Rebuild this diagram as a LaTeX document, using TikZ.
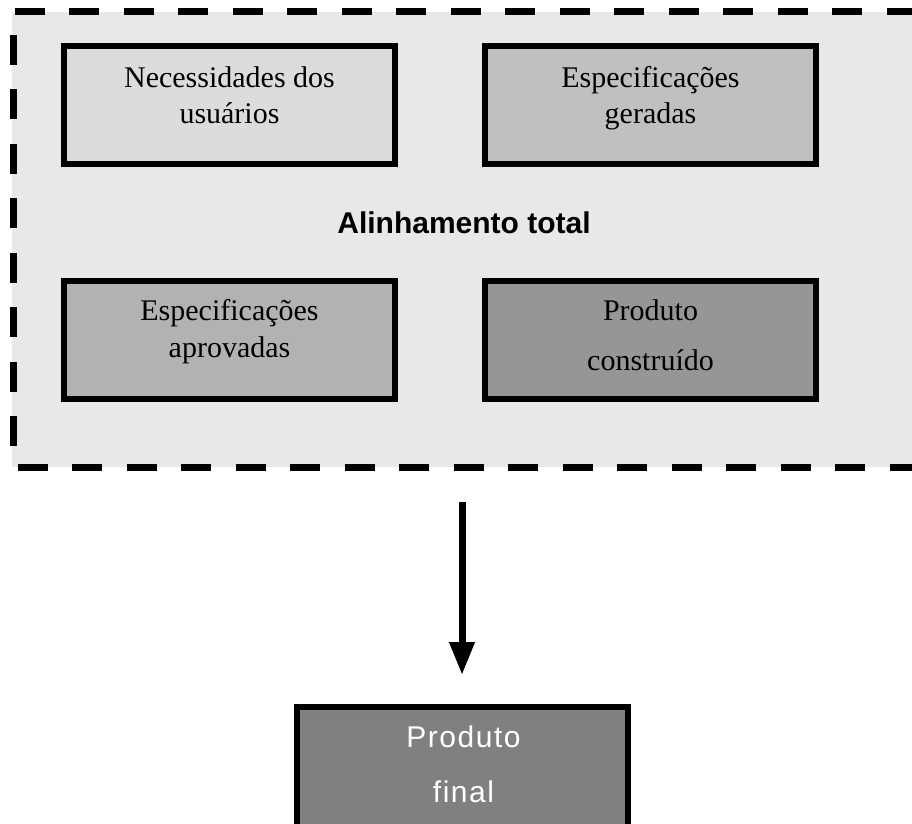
\documentclass[tikz,border=0pt]{standalone}
\usepackage{fontspec}
\setmainfont{Liberation Serif}
\newfontfamily\sansfont{Liberation Sans}
\newfontfamily\finalfont[LetterSpace=5]{Liberation Sans}
\usetikzlibrary{arrows.meta,positioning}
\definecolor{contgray}{RGB}{232,232,232}
\definecolor{needgray}{RGB}{220,220,220}
\definecolor{specgray}{RGB}{192,192,192}
\definecolor{apprgray}{RGB}{178,178,178}
\definecolor{buildgray}{RGB}{150,150,150}
\definecolor{finalgray}{RGB}{128,128,128}

\begin{document}
\begin{tikzpicture}[x=1pt,y=-1pt,
    stagebox/.style={draw=black,line width=6pt,minimum width=331pt,
      minimum height=118pt,inner sep=0pt},
    boxtext/.style={anchor=base,inner sep=0pt,font=\fontsize{30}{36}\selectfont},
    dashborder/.style={line width=7pt,dash pattern=on 30pt off 24.5pt},
    flowarrow/.style={line width=7pt,-{Triangle[width=24pt,length=33pt]}}]
  \useasboundingbox (0,0) rectangle (912,823);
  % container
  \node[fill=contgray,minimum width=900pt,minimum height=455pt,inner sep=0pt]
    (total) at (462,239.5) {};
  \draw[dashborder] ([xshift=3pt]total.north west) -- (total.north east);
  \draw[dashborder] ([xshift=1.5pt,yshift=-23pt]total.north west)
    -- ([xshift=1.5pt]total.south west);
  \draw[dashborder] ([xshift=6pt]total.south west) -- (total.south east);
  % four stages
  \node[stagebox,fill=needgray] (need) at (229.5,105) {};
  \node[stagebox,fill=specgray] (spec) at (650.5,105) {};
  \node[stagebox,fill=apprgray] (appr) at (229.5,339.5) {};
  \node[stagebox,fill=buildgray] (build) at (650.5,339.5) {};
  \node[boxtext] (needA) at (229.5,87) {Necessidades dos};
  \node[boxtext] (needB) at (229.5,123) {usuários};
  \node[boxtext] (specA) at (650.5,87) {Especificações};
  \node[boxtext] (specB) at (650.5,123) {geradas};
  \node[boxtext] (apprA) at (229.5,320) {Especificações};
  \node[boxtext] (apprB) at (229.5,357) {aprovadas};
  \node[boxtext] (buildA) at (650.5,320) {Produto};
  \node[boxtext] (buildB) at (650.5,370) {construído};
  \node[anchor=base,inner sep=0pt,font=\fontsize{30}{36}\sansfont\bfseries]
    (align) at (464,233) {Alinhamento total};
  % result
  \node[stagebox,fill=finalgray,minimum height=140pt] (final) at (462,777) {};
  \node[anchor=base,inner sep=0pt,text=white,font=\fontsize{30}{36}\finalfont]
    (finalA) at (463.5,747) {Produto};
  \node[anchor=base,inner sep=0pt,text=white,font=\fontsize{30}{36}\finalfont]
    (finalB) at (463.5,802) {final};
  \draw[flowarrow] ([yshift=-35pt]total.south) -- ([yshift=29pt]final.north);
\end{tikzpicture}
\end{document}
